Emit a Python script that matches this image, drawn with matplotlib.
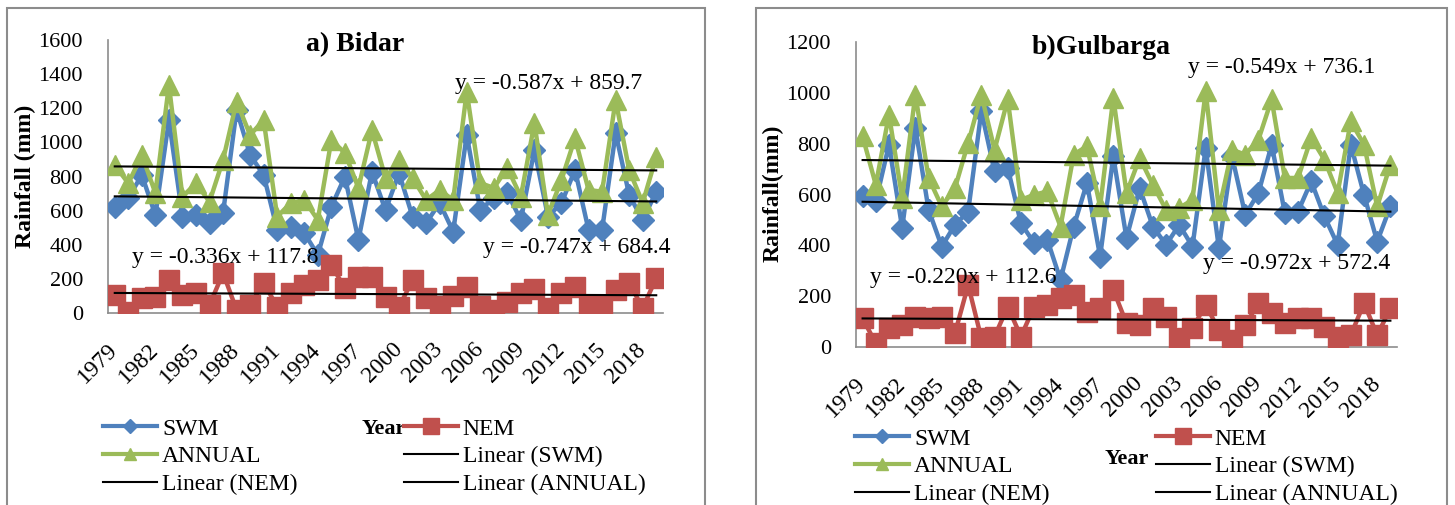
import numpy as np
import matplotlib.pyplot as plt
from matplotlib.lines import Line2D
from matplotlib.patches import Rectangle

plt.rcParams['font.family'] = ['Liberation Serif', 'DejaVu Serif']

years = list(range(1979, 2020))

# seasonal rainfall (mm), Bidar
bidar_swm = [623, 674, 809, 574, 1131, 565, 574, 527, 586, 1190, 926, 809, 487, 506, 469, 340, 623,
             799, 428, 828, 602, 820, 565, 527, 645, 477, 1043, 604, 674, 703, 545, 955, 565, 645,
             838, 487, 487, 1055, 692, 545, 711]
bidar_nem = [105, 8, 88, 96, 193, 105, 117, 47, 234, 18, 47, 176, 37, 117, 164, 193, 281, 146, 213,
             213, 95, 36, 193, 90, 42, 100, 153, 42, 18, 65, 117, 140, 30, 117, 150, 42, 42, 135,
             175, 30, 204]
bidar_annual = [867, 760, 926, 703, 1336, 682, 760, 652, 897, 1239, 1043, 1131, 565, 645, 662, 545,
                1014, 938, 733, 1072, 790, 897, 791, 662, 721, 662, 1297, 762, 733, 850, 682, 1113,
                574, 780, 1025, 721, 711, 1248, 838, 645, 916]

# seasonal rainfall (mm), Gulbarga
gulbarga_swm = [593, 573, 796, 468, 862, 540, 395, 481, 533, 928, 691, 704, 487, 409, 422, 264, 474,
                645, 356, 750, 428, 625, 474, 402, 481, 395, 783, 389, 750, 520, 606, 796, 527, 533,
                652, 514, 402, 796, 599, 415, 553]
gulbarga_nem = [113, 14, 74, 86, 120, 113, 120, 54, 244, 34, 41, 159, 41, 159, 166, 192, 205, 139,
                152, 225, 93, 87, 152, 120, 34, 74, 166, 67, 28, 87, 172, 133, 93, 113, 113, 80, 41,
                47, 172, 47, 152]
gulbarga_annual = [829, 638, 914, 586, 993, 665, 553, 625, 803, 993, 776, 974, 579, 599, 612, 474,
                   757, 790, 553, 980, 606, 744, 638, 540, 547, 579, 1006, 540, 776, 757, 816, 974,
                   665, 665, 822, 737, 606, 888, 796, 553, 717]

# linear trend coefficients (slope, intercept) as printed on the chart
bidar_trend = {'SWM': (-0.747, 684.4), 'NEM': (-0.336, 117.8), 'ANNUAL': (-0.587, 859.7)}
gulbarga_trend = {'SWM': (-0.972, 572.4), 'NEM': (-0.220, 112.6), 'ANNUAL': (-0.549, 736.1)}

W, H = 1455, 505
BLUE, RED, GREEN = '#4F81BD', '#C0504D', '#9BBB59'
GREY = '#8c8c8c'


def fx(px):
    return px / W


def fy(py):
    return 1 - py / H


def draw_panel(rect, swm, nem, annual, trend, ymax, title, ylabel, ylab_xy, title_xy):
    ax = fig.add_axes(rect)
    x = np.arange(1, len(years) + 1)

    ax.plot(x, swm, color=BLUE, lw=3.2, marker='D', ms=11, mec=BLUE, zorder=3)
    ax.plot(x, nem, color=RED, lw=3.2, marker='s', ms=14, mec=RED, zorder=3)
    ax.plot(x, annual, color=GREEN, lw=3.2, marker='^', ms=14, mec=GREEN, zorder=4)

    # trend lines, x = 1..n like excel
    for key in ['SWM', 'NEM', 'ANNUAL']:
        m, c = trend[key]
        ax.plot([x[0], x[-1]], [m * x[0] + c, m * x[-1] + c], color='black', lw=1.5, zorder=5)

    ax.set_xlim(0.5, len(years) + 0.5)
    ax.set_ylim(0, ymax)
    ax.set_yticks(np.arange(0, ymax + 1, 200))
    ax.set_xticks(x[::3])
    ax.set_xticklabels([str(y) for y in years[::3]], rotation=45, ha='right', va='center',
                       rotation_mode='anchor')
    ax.tick_params(axis='x', length=0, pad=24, labelsize=17)
    ax.tick_params(axis='y', length=0, pad=18, labelsize=16)

    for s in ['top', 'right']:
        ax.spines[s].set_visible(False)
    for s in ['left', 'bottom']:
        ax.spines[s].set_color(GREY)
        ax.spines[s].set_linewidth(1.2)

    ax.set_ylabel(ylabel, fontsize=17, fontweight='bold')
    ax.yaxis.set_label_coords(*ylab_xy)
    fig.text(fx(title_xy[0]), fy(title_xy[1]), title, fontsize=20, fontweight='bold',
             ha='center', va='center')
    return ax


def add_legend(x0, y0):
    h = [Line2D([], [], color=BLUE, lw=3, marker='D', ms=7),
         Line2D([], [], color=GREEN, lw=3, marker='^', ms=9),
         Line2D([], [], color='black', lw=1.5),
         Line2D([], [], color=RED, lw=3, marker='s', ms=11),
         Line2D([], [], color='black', lw=1.5),
         Line2D([], [], color='black', lw=1.5)]
    labels = ['SWM', 'ANNUAL', 'Linear (NEM)', 'NEM', 'Linear (SWM)', 'Linear (ANNUAL)']
    fig.legend(h, labels, loc='upper left', bbox_to_anchor=(fx(x0), fy(y0)), ncol=2,
               frameon=False, fontsize=17, handlelength=2.3, handletextpad=0.2,
               labelspacing=0.26, columnspacing=4.5, borderpad=0, borderaxespad=0)


fig = plt.figure(figsize=(W / 100, H / 100), dpi=100)

# panel frames
fig.add_artist(Rectangle((fx(7), fy(520)), fx(705) - fx(7), fy(8) - fy(520), fill=False,
                         edgecolor=GREY, lw=1.5, transform=fig.transFigure, clip_on=False))
fig.add_artist(Rectangle((fx(756), fy(520)), fx(1447) - fx(756), fy(8) - fy(520), fill=False,
                         edgecolor=GREY, lw=1.5, transform=fig.transFigure, clip_on=False))

ax1 = draw_panel([fx(108), fy(313), fx(663) - fx(108), fy(40) - fy(313)],
                 bidar_swm, bidar_nem, bidar_annual, bidar_trend, 1600,
                 'a) Bidar', 'Rainfall (mm)', (-0.13, 0.5), (355, 45))
ax2 = draw_panel([fx(856), fy(347), fx(1397) - fx(856), fy(42) - fy(347)],
                 gulbarga_swm, gulbarga_nem, gulbarga_annual, gulbarga_trend, 1200,
                 'b)Gulbarga', 'Rainfall(mm)', (-0.133, 0.505), (1101, 47))

# trend equations
eq_style = dict(fontsize=17, ha='left', va='center')
fig.text(fx(455), fy(83), 'y = -0.587x + 859.7', **eq_style)
fig.text(fx(132), fy(257), 'y = -0.336x + 117.8', **eq_style)
fig.text(fx(483), fy(247), 'y = -0.747x + 684.4', **eq_style)
fig.text(fx(1188), fy(68), 'y = -0.549x + 736.1', **eq_style)
fig.text(fx(870), fy(277), 'y = -0.220x + 112.6', **eq_style)
fig.text(fx(1203), fy(263), 'y = -0.972x + 572.4', **eq_style)

add_legend(103, 418)
add_legend(855, 428)

fig.text(fx(362), fy(429), 'Year', fontsize=16, fontweight='bold', ha='left', va='center')
fig.text(fx(1105), fy(459), 'Year', fontsize=16, fontweight='bold', ha='left', va='center')

fig.savefig('out.png', dpi=100)
